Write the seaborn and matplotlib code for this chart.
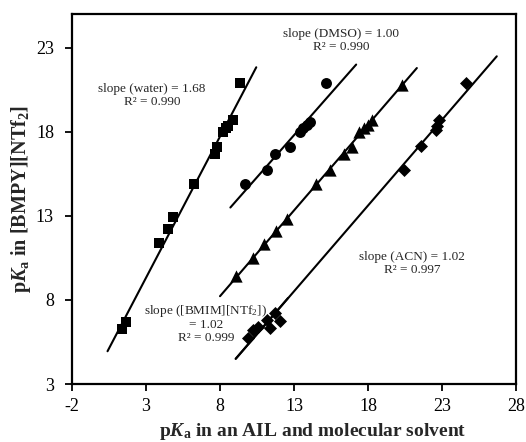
import numpy as np
import pandas as pd
import matplotlib
matplotlib.use("Agg")
import matplotlib.pyplot as plt
import seaborn as sns

# ---- data ----
water_x = [1.4, 1.65, 3.9, 4.5, 4.85, 6.25, 7.65, 7.8, 8.2, 8.4, 8.55, 8.9, 9.35]
water_y = [6.25, 6.7, 11.4, 12.2, 12.95, 14.9, 16.7, 17.1, 18.0, 18.2, 18.35, 18.7, 20.9]

dmso_x = [9.7, 11.15, 11.7, 12.7, 13.4, 13.6, 13.85, 14.1, 15.15]
dmso_y = [14.9, 15.7, 16.7, 17.1, 18.0, 18.2, 18.4, 18.6, 20.9]

ail_x = [9.1, 10.25, 11.0, 11.8, 12.5, 14.5, 15.4, 16.4, 16.9, 17.4, 17.7, 18.0, 18.3, 20.3]
ail_y = [9.4, 10.5, 11.3, 12.1, 12.8, 14.9, 15.7, 16.7, 17.1, 18.0, 18.2, 18.4, 18.7, 20.8]

bmim_x = [9.9, 10.25, 10.6, 11.15, 11.4, 11.7, 12.05]
bmim_y = [5.75, 6.2, 6.4, 6.8, 6.35, 7.2, 6.75]

acn_x = [20.4, 21.6, 22.6, 22.65, 22.8, 24.65]
acn_y = [15.7, 17.15, 18.1, 18.35, 18.7, 20.9]

# reported slopes of the trend lines
slopes = {"water": 1.68, "DMSO": 1.00, "AIL": 1.02, "BMIM": 1.02, "ACN": 1.02}

# extents of the trend lines (x data range)
water_line = [0.4, 10.45]
dmso_line = [8.7, 17.2]
ail_line = [8.0, 21.3]
bmim_line = [9.06, 12.6]
acn_line = [9.06, 26.7]

x_ticks = [-2, 3, 8, 13, 18, 23, 28]
y_ticks = [3, 8, 13, 18, 23]

labels = ["water", "DMSO", "AIL", "BMIM", "ACN"]

# ---- styling ----
sns.set_theme(style="white")
plt.rcParams["font.family"] = ["Liberation Serif", "DejaVu Serif"]
plt.rcParams["axes.unicode_minus"] = False
plt.rcParams["mathtext.fontset"] = "custom"
plt.rcParams["mathtext.rm"] = "Liberation Serif"
plt.rcParams["mathtext.it"] = "Liberation Serif:italic"
plt.rcParams["mathtext.bf"] = "Liberation Serif:bold"
plt.rcParams["mathtext.bfit"] = "Liberation Serif:bold:italic"

df = pd.concat([
    pd.DataFrame({"x": water_x, "y": water_y, "set": "water"}),
    pd.DataFrame({"x": dmso_x, "y": dmso_y, "set": "DMSO"}),
    pd.DataFrame({"x": ail_x, "y": ail_y, "set": "AIL"}),
    pd.DataFrame({"x": bmim_x, "y": bmim_y, "set": "BMIM"}),
    pd.DataFrame({"x": acn_x, "y": acn_y, "set": "ACN"}),
], ignore_index=True)

fig = plt.figure(figsize=(5.26, 4.42), dpi=100)
ax = fig.add_axes([0.1369, 0.1312, 0.8441, 0.8371])

# trend lines: reported slope, intercept through the data centroid
extents = {"water": water_line, "DMSO": dmso_line, "AIL": ail_line,
           "BMIM": bmim_line, "ACN": acn_line}
for name in labels:
    sub = df[df["set"] == name]
    m = slopes[name]
    b = sub["y"].mean() - m * sub["x"].mean()
    xe = np.array(extents[name])
    ax.plot(xe, m * xe + b, color="black", lw=1.5, zorder=2)

markers = {"water": "s", "DMSO": "o", "AIL": "^", "BMIM": "D", "ACN": "D"}
sizes = {"water": 58, "DMSO": 62, "AIL": 78, "BMIM": 44, "ACN": 44}
for name in labels:
    sub = df[df["set"] == name]
    sns.scatterplot(data=sub, x="x", y="y", marker=markers[name], s=sizes[name],
                    color="black", edgecolor="black", linewidth=0, ax=ax, zorder=3)

ax.set_xlim(-2, 28)
ax.set_ylim(3, 25)
ax.set_xticks(x_ticks)
ax.set_yticks(y_ticks)
ax.tick_params(axis="both", which="major", direction="out", length=5, width=1.3,
               labelsize=13, colors="black", bottom=True, left=True)
ax.tick_params(axis="x", pad=5)
ax.tick_params(axis="y", pad=8)
for sp in ax.spines.values():
    sp.set_linewidth(1.6)
    sp.set_color("black")

ax.set_xlabel(r"p$\mathbfit{K}_{\mathbf{a}}$ in an AIL and molecular solvent",
              fontsize=14, fontweight="bold")
ax.xaxis.set_label_coords(0.543, -0.10)
ax.set_ylabel(r"p$\mathbfit{K}_{\mathbf{a}}$ in [BMPY][NTf$_{\mathbf{2}}$]",
              fontsize=14.5, fontweight="bold")
ax.yaxis.set_label_coords(-0.088, 0.5)

tk = dict(fontsize=9.5, ha="center", va="center", linespacing=1.1)
ax.text(3.4, 20.15, "slope (water) = 1.68\nR² = 0.990", **tk)
ax.text(16.2, 23.45, "slope (DMSO) = 1.00\nR² = 0.990", **tk)
ax.text(21.0, 10.15, "slope (ACN) = 1.02\nR² = 0.997", **tk)
ax.text(7.05, 6.6, "slope ([BMIM][NTf$_2$])\n= 1.02\nR² = 0.999", **tk)

fig.savefig("out.png", dpi=100)
